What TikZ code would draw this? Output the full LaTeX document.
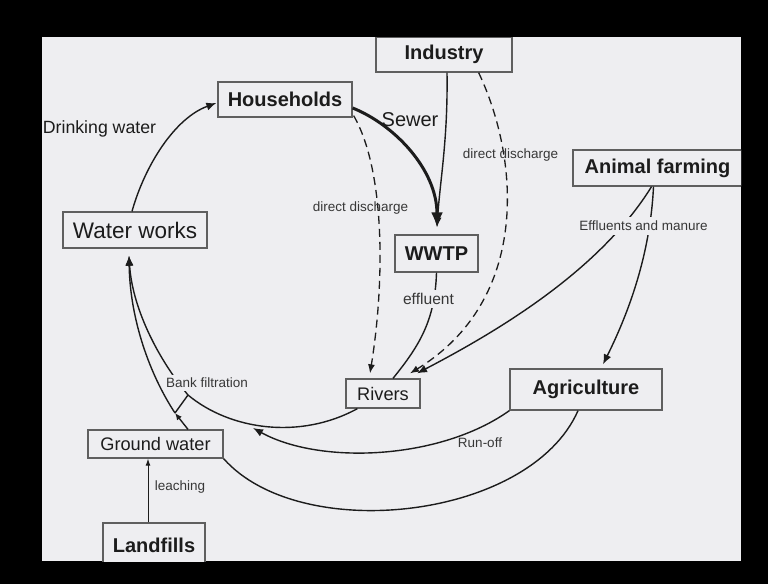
\documentclass[tikz,border=0pt]{standalone}
\usepackage{fontspec}
\setmainfont{Liberation Sans}
\usepackage{xcolor}
\definecolor{paper}{RGB}{238,238,241}
\definecolor{ink}{RGB}{28,28,28}
\definecolor{boxgray}{RGB}{95,95,95}
\definecolor{labelgray}{RGB}{55,55,55}
\usepackage{tikz}
\usetikzlibrary{arrows.meta, calc}

\tikzset{
  box/.style={draw=boxgray, line width=1.3pt, fill=paper, inner sep=0pt, text=ink},
  bigbox/.style={box, font=\fontsize{20}{24}\selectfont\bfseries},
  plainbox/.style={box, font=\fontsize{18.2}{22}\selectfont},
  lbl/.style={text=labelgray, inner sep=1pt, font=\fontsize{13.5}{16}\selectfont},
  flow/.style={draw=ink, line width=1.4pt, -{Latex[length=10pt,width=8pt]}},
  link/.style={draw=ink, line width=1.4pt},
  discharge/.style={draw=ink, line width=1.3pt, dash pattern=on 8pt off 5pt, -{Latex[length=9pt,width=7pt]}}
}

\begin{document}
\begin{tikzpicture}[x=1pt, y=-1pt]
  \useasboundingbox (0,0) rectangle (768,584);
  \fill[black] (0,0) rectangle (768,584);
  \begin{scope}
    \clip (42,37) rectangle (741,561);
    \fill[paper] (42,37) rectangle (741,561);

    \node[bigbox, minimum width=136pt, minimum height=35pt] (industry) at (444,54.5) {Industry};
    \node[bigbox, minimum width=134pt, minimum height=35pt] (households) at (285,99.5) {Households};
    \node[box, font=\fontsize{22.5}{26}\selectfont, minimum width=144pt, minimum height=36pt] (works) at (135,230) {Water works};
    \node[bigbox, minimum width=83pt, minimum height=37pt] (wwtp) at (436.5,253.5) {WWTP};
    \node[bigbox, minimum width=169pt, minimum height=36pt] (animal) at (657.5,168) {Animal farming};
    \node[plainbox, minimum width=74pt, minimum height=29pt] (rivers) at (383,393.5) {Rivers};
    \node[bigbox, minimum width=152pt, minimum height=41pt] (agri) at (586,389.5) {Agriculture};
    \node[plainbox, minimum width=135pt, minimum height=28pt] (ground) at (155.5,444) {Ground water};
    \node[bigbox, minimum width=102pt, minimum height=44pt] (landfills) at (154,545) {Landfills};

    \coordinate (wwin) at ($(works.south)+(-6,7)$);
    \coordinate (wwtpin) at ($(wwtp.north)+(0.5,-7)$);
    \coordinate (rvdash) at ($(rivers.north)+(-13,-5)$);
    \coordinate (rvind) at ($(rivers.north)+(27,-5)$);
    \coordinate (rvanimal) at ($(rivers.north)+(34,-5)$);
    \coordinate (agin) at ($(agri.north)+(17,-4)$);
    \coordinate (afout) at ($(animal.south)+(-6,0)$);
    \coordinate (bfj) at (188,395);
    \coordinate (gwj) at (175,413);
    \coordinate (runin) at (253,428);

    \draw[flow] ($(works.north)+(-3,0)$) .. controls (145,165) and (175,118) .. ($(households.west)+(-1,3.5)$);
    \draw[flow] ($(industry.south)+(3,0)$) .. controls (448,140) and (440,180) .. (wwtpin);
    \draw[flow, line width=3pt, -{Latex[length=15pt,width=12pt]}] ($(households.east)+(0,8.5)$) .. controls (395,125) and (437,170) .. (wwtpin);
    \draw[discharge] ($(households.south east)+(1,-2)$) .. controls (385,170) and (385,280) .. (rvdash);
    \draw[discharge] ($(industry.south east)+(-34,0)$) .. controls (520,160) and (530,300) .. (rvind);
    \draw[link] (wwtp.south) .. controls (435,320) and (420,345) .. ($(rivers.north)+(10,0)$);
    \draw[flow] (afout) .. controls (600,270) and (500,330) .. (rvanimal);
    \draw[flow] ($(afout)+(2,0)$) .. controls (650,260) and (625,320) .. (agin);
    \draw[flow] ($(rivers.south west)+(12,0)$) .. controls (300,440) and (230,430) .. (bfj) .. controls (155,355) and (132,305) .. (wwin);
    \draw[flow] (agri.south west) .. controls (440,460) and (320,465) .. (runin);
    \draw[flow, -{Latex[length=7pt,width=6pt]}] ($(ground.north)+(32.5,0)$) -- (gwj);
    \draw[flow] (gwj) .. controls (150,375) and (130,320) .. (wwin);
    \draw[link] (bfj) -- (gwj);
    \draw[link] ($(agri.south)+(-8,0)$) .. controls (530,520) and (300,545) .. (ground.south east);
    \draw[flow, line width=1pt, -{Latex[length=7pt,width=5pt]}] ($(landfills.north)+(-6,0)$) -- ($(ground.south)+(-7.5,0)$);

    \node[text=ink, font=\fontsize{17.7}{21}\selectfont] (drinklbl) at (99.5,129) {Drinking water};
    \node[text=ink, font=\fontsize{20}{24}\selectfont] (sewerlbl) at (410,120) {Sewer};
    \node[lbl] (hddlbl) at (360.5,208) {direct discharge};
    \node[lbl] (iddlbl) at (510.5,155) {direct discharge};
    \node[lbl, fill=paper, inner sep=4pt] (manurelbl) at (643.5,226) {Effluents and manure};
    \node[lbl, fill=paper, font=\fontsize{15.6}{18}\selectfont, inner sep=3pt] (effllbl) at (428.5,299) {effluent};
    \node[lbl, fill=paper, inner sep=3pt] (banklbl) at (207,383) {Bank filtration};
    \node[lbl] (runofflbl) at (480,443) {Run-off};
    \node[lbl] (leachlbl) at (180,487) {leaching};
  \end{scope}
\end{tikzpicture}
\end{document}
